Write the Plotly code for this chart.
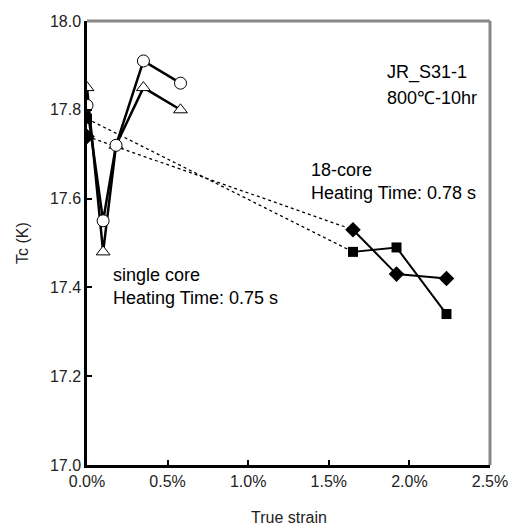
import plotly.graph_objects as go

# Single core (heating time 0.75 s)
sc_strain = [0.0, 0.001, 0.0018, 0.0035, 0.0058]
sc_circle_tc = [17.81, 17.55, 17.72, 17.91, 17.86]
sc_triangle_tc = [17.85, 17.48, 17.72, 17.85, 17.80]

# 18-core (heating time 0.78 s)
mc_strain0 = [0.0]
mc_square_tc0 = [17.78]
mc_diamond_tc0 = [17.74]
mc_strain = [0.0165, 0.0192, 0.0223]
mc_square_tc = [17.48, 17.49, 17.34]
mc_diamond_tc = [17.53, 17.43, 17.42]

x_ticks = [0.0, 0.005, 0.01, 0.015, 0.02, 0.025]
x_tick_labels = ["0.0%", "0.5%", "1.0%", "1.5%", "2.0%", "2.5%"]
y_ticks = [17.0, 17.2, 17.4, 17.6, 17.8, 18.0]
y_tick_labels = ["17.0", "17.2", "17.4", "17.6", "17.8", "18.0"]

FONT = "Liberation Sans, Arial, sans-serif"
fig = go.Figure()

# dotted connectors from 0% to first 18-core point
fig.add_trace(go.Scatter(x=mc_strain0 + mc_strain[:1], y=mc_square_tc0 + mc_square_tc[:1],
                         mode="lines", line=dict(color="black", width=1.3, dash="dot"),
                         showlegend=False, hoverinfo="skip"))
fig.add_trace(go.Scatter(x=mc_strain0 + mc_strain[:1], y=mc_diamond_tc0 + mc_diamond_tc[:1],
                         mode="lines", line=dict(color="black", width=1.3, dash="dot"),
                         showlegend=False, hoverinfo="skip"))

# 18-core solid
fig.add_trace(go.Scatter(x=mc_strain, y=mc_square_tc, mode="lines+markers",
                         line=dict(color="black", width=2),
                         marker=dict(symbol="square", size=10, color="black"),
                         showlegend=False))
fig.add_trace(go.Scatter(x=mc_strain, y=mc_diamond_tc, mode="lines+markers",
                         line=dict(color="black", width=2),
                         marker=dict(symbol="diamond", size=12, color="black"),
                         showlegend=False))
fig.add_trace(go.Scatter(x=mc_strain0, y=mc_square_tc0, mode="markers",
                         marker=dict(symbol="square", size=10, color="black"),
                         showlegend=False))
fig.add_trace(go.Scatter(x=mc_strain0, y=mc_diamond_tc0, mode="markers",
                         marker=dict(symbol="diamond", size=12, color="black"),
                         showlegend=False))

# single core
fig.add_trace(go.Scatter(x=sc_strain, y=sc_triangle_tc, mode="lines+markers",
                         line=dict(color="black", width=2.5),
                         marker=dict(symbol="triangle-up", size=12, color="white",
                                     line=dict(color="black", width=1)),
                         showlegend=False))
fig.add_trace(go.Scatter(x=sc_strain, y=sc_circle_tc, mode="lines+markers",
                         line=dict(color="black", width=2.5),
                         marker=dict(symbol="circle", size=12, color="white",
                                     line=dict(color="black", width=1)),
                         showlegend=False))

texts = [
    (0.01867, 17.883, "JR_S31-1"),
    (0.01867, 17.827, "800℃-10hr"),
    (0.01396, 17.664, "18-core"),
    (0.01396, 17.613, "Heating Time: 0.78 s"),
    (0.001675, 17.428, "single core"),
    (0.001675, 17.376, "Heating Time: 0.75 s"),
]
for x, y, t in texts:
    fig.add_annotation(x=x, y=y, text=t, showarrow=False, xanchor="left", yanchor="middle",
                       xshift=-3, font=dict(family=FONT, size=18, color="black"))

# x-axis title
fig.add_annotation(x=0.5, y=0, xref="paper", yref="paper", text="True strain",
                   showarrow=False, xanchor="center", yanchor="middle", yshift=-52,
                   font=dict(family=FONT, size=16, color="#222222"))

# gray top and right frame
fig.add_shape(type="line", xref="paper", yref="paper", x0=0, x1=1, y0=1, y1=1,
              line=dict(color="#888888", width=3))
fig.add_shape(type="line", xref="paper", yref="paper", x0=1, x1=1, y0=0, y1=1,
              line=dict(color="#888888", width=3))

fig.update_layout(
    width=509, height=525,
    margin=dict(l=87, r=19, t=21, b=60),
    plot_bgcolor="white", paper_bgcolor="white",
    font=dict(family=FONT, size=16, color="#222222"),
    xaxis=dict(range=[0, 0.025], tickvals=x_ticks, ticktext=x_tick_labels,
               showgrid=False, zeroline=False, showline=True, linecolor="black", linewidth=2.5,
               ticks="inside", ticklen=5, tickwidth=2, tickcolor="black",
               tickfont=dict(size=16), automargin=False),
    yaxis=dict(range=[17.0, 18.0], tickvals=y_ticks, ticktext=y_tick_labels,
               showgrid=False, zeroline=False, showline=True, linecolor="black", linewidth=2.5,
               ticks="inside", ticklen=5, tickwidth=2, tickcolor="black",
               tickfont=dict(size=16), automargin=False,
               title=dict(text="Tc (K)", font=dict(size=16), standoff=18)),
)

fig.write_html("out.html")
